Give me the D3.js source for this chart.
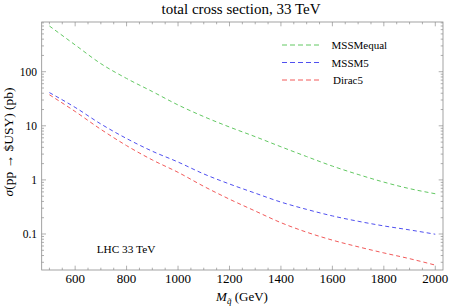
<!DOCTYPE html>
<html>
<head>
<meta charset="utf-8">
<script src="https://cdnjs.cloudflare.com/ajax/libs/d3/7.8.5/d3.min.js"></script>
<style>
  body { margin: 0; background: #fff; }
  svg { display: block; }
  text { font-family: "Liberation Serif", "Times New Roman", serif; fill: #000; }
</style>
</head>
<body>
<svg width="450" height="308"></svg>
<script>
// squark mass (GeV)
var masses = [500, 600, 700, 800, 900, 1000, 1100, 1200, 1300, 1400, 1500, 1600, 1700, 1800, 1900, 2000];
// cross sections (pb)
var mssmEqual = [700, 313, 141, 75, 43, 24.3, 14.8, 9.5, 6.3, 4.1, 2.7, 1.8, 1.26, 0.91, 0.69, 0.555];
var mssm5 = [41.1, 21.9, 10.8, 5.82, 3.39, 2.14, 1.29, 0.84, 0.569, 0.389, 0.285, 0.216, 0.172, 0.141, 0.119, 0.099];
var dirac5 = [37.5, 18.4, 8.6, 4.3, 2.34, 1.38, 0.76, 0.44, 0.266, 0.162, 0.108, 0.077, 0.058, 0.0447, 0.035, 0.0266];

var seriesNames = ["MSSMequal", "MSSM5", "Dirac5"];
var seriesColors = ["#62c862", "#5050f0", "#f25a5a"];
var xTickValues = [600, 800, 1000, 1200, 1400, 1600, 1800, 2000];
var yTickValues = [0.1, 1, 10, 100];
var yTickLabels = ["0.1", "1", "10", "100"];

var svg = d3.select("svg");
// plot box (don't call it "top", window.top is read-only)
var pLeft = 41.7, pRight = 443, pTop = 22, pBottom = 270;
var frameColor = "#8c8c8c";

var x = d3.scaleLinear().domain([470, 2030]).range([pLeft, pRight]);
var y = d3.scaleLog().domain([0.0216, 830]).range([pBottom, pTop]);

// frame
svg.append("rect")
    .attr("x", pLeft).attr("y", pTop)
    .attr("width", pRight - pLeft).attr("height", pBottom - pTop)
    .attr("fill", "none")
    .attr("stroke", frameColor)
    .attr("stroke-width", 0.8);

// x ticks (every 50, major every 200), bottom and top
var xMinor = d3.range(500, 2001, 50);
var xt = svg.append("g").attr("stroke", frameColor).attr("stroke-width", 0.7);
xMinor.forEach(function(v) {
    var len = (v % 200 === 0) ? 4.3 : 2.3;
    xt.append("line").attr("x1", x(v)).attr("x2", x(v)).attr("y1", pBottom).attr("y2", pBottom - len);
    xt.append("line").attr("x1", x(v)).attr("x2", x(v)).attr("y1", pTop).attr("y2", pTop + len);
});

// y ticks (log), left and right
var yMinor = [];
[0.01, 0.1, 1, 10, 100].forEach(function(dec) {
    for (var k = 2; k <= 9; k++) yMinor.push(dec * k);
});
var yt = svg.append("g").attr("stroke", frameColor).attr("stroke-width", 0.7);
yMinor.concat(yTickValues).forEach(function(v) {
    if (v < y.domain()[0] || v > y.domain()[1]) return;
    var len = yTickValues.indexOf(v) >= 0 ? 4.3 : 2.3;
    yt.append("line").attr("x1", pLeft).attr("x2", pLeft + len).attr("y1", y(v)).attr("y2", y(v));
    yt.append("line").attr("x1", pRight).attr("x2", pRight - len).attr("y1", y(v)).attr("y2", y(v));
});

// tick labels
svg.append("g").selectAll("text")
    .data(xTickValues)
    .enter().append("text")
    .attr("x", function(d) { return x(d); })
    .attr("y", 283)
    .attr("text-anchor", "middle")
    .attr("font-size", 13)
    .text(function(d) { return d; });

svg.append("g").selectAll("text")
    .data(yTickValues)
    .enter().append("text")
    .attr("x", 37)
    .attr("y", function(d) { return y(d) + 4; })
    .attr("text-anchor", "end")
    .attr("font-size", 11.5)
    .text(function(d, i) { return yTickLabels[i]; });

// curves
var line = d3.line()
    .x(function(d) { return x(d[0]); })
    .y(function(d) { return y(d[1]); })
    .curve(d3.curveMonotoneX);

[mssmEqual, mssm5, dirac5].forEach(function(vals, i) {
    svg.append("path")
        .datum(masses.map(function(m, j) { return [m, vals[j]]; }))
        .attr("d", line)
        .attr("fill", "none")
        .attr("stroke", seriesColors[i])
        .attr("stroke-width", 1)
        .attr("stroke-dasharray", "4,3");
});

// legend
var legend = svg.append("g");
seriesNames.forEach(function(name, i) {
    var ly = 45 + i * 17.5;
    legend.append("line")
        .attr("x1", 282).attr("x2", 320)
        .attr("y1", ly).attr("y2", ly)
        .attr("stroke", seriesColors[i])
        .attr("stroke-width", 1)
        .attr("stroke-dasharray", "5,3");
    legend.append("text")
        .attr("x", i === 2 ? 333 : 331.5)
        .attr("y", ly + 4)
        .attr("font-size", 11)
        .text(name);
});

// title
svg.append("text")
    .attr("x", 241).attr("y", 13.5)
    .attr("text-anchor", "middle")
    .attr("font-size", 15)
    .text("total cross section, 33 TeV");

// LHC label
svg.append("text")
    .attr("x", 96.7).attr("y", 253)
    .attr("font-size", 11.3)
    .text("LHC 33 TeV");

// x axis label
var xl = svg.append("text")
    .attr("x", 242).attr("y", 301)
    .attr("text-anchor", "middle")
    .attr("font-size", 13);
xl.append("tspan").attr("font-style", "italic").text("M");
xl.append("tspan").attr("font-style", "italic").attr("font-size", 9).attr("dy", 3).text("q\u0303");
xl.append("tspan").attr("dy", -3).text(" (GeV)");

// y axis label
var yl = svg.append("text")
    .attr("transform", "translate(13,142) rotate(-90)")
    .attr("text-anchor", "middle")
    .attr("font-size", 13.5);
yl.append("tspan").attr("font-style", "italic").text("\u03c3");
yl.append("tspan").text("(pp \u2192 $USY) (pb)");
</script>
</body>
</html>
